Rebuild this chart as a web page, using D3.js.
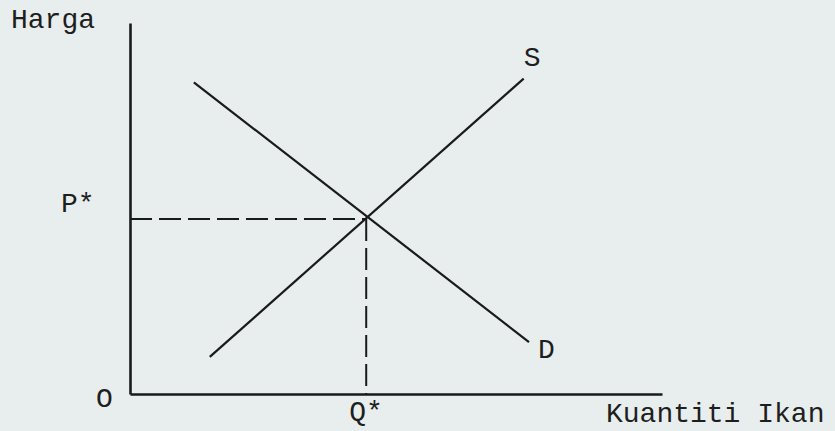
<!DOCTYPE html>
<html><head><meta charset="utf-8">
<script src="https://cdn.jsdelivr.net/npm/d3@7"></script>
<style>
html,body{margin:0;padding:0;background:#e8eeed;}
svg{display:block;}
text{font-family:"Liberation Mono","Courier New",monospace;font-size:28px;fill:#1e1e1e;}
</style></head><body>
<svg id="c" width="835" height="431"></svg>
<script>
// data (quantity 0-100, price 0-100)
const axisLabels = {y: "Harga", x: "Kuantiti Ikan", origin: "O"};
const supply = [[15, 10], [74, 85]];
const demand = [[12, 84], [75, 14]];
const equilibrium = {q: 44.4, p: 47.2};
const eqLabels = {p: "P*", q: "Q*"};
const curveLabels = ["S", "D"];

const svg = d3.select("#c");
const x = d3.scaleLinear().domain([0, 100]).range([130, 662]);
const y = d3.scaleLinear().domain([0, 100]).range([394, 23]);
const ink = "#1a1a1a";

// axes
svg.append("g").attr("transform", `translate(0,${y(0)})`)
  .call(d3.axisBottom(x).tickValues([]).tickSizeOuter(0))
  .select(".domain").attr("stroke", ink).attr("stroke-width", 2.6);
svg.append("g").attr("transform", `translate(${x(0)},0)`)
  .call(d3.axisLeft(y).tickValues([]).tickSizeOuter(0))
  .select(".domain").attr("stroke", ink).attr("stroke-width", 2.6);

const line = d3.line().x(d => x(d[0])).y(d => y(d[1]));
svg.append("path").attr("d", line(supply)).attr("fill", "none").attr("stroke", ink).attr("stroke-width", 2.2);
svg.append("path").attr("d", line(demand)).attr("fill", "none").attr("stroke", ink).attr("stroke-width", 2.2);

// dashed guides
svg.append("line").attr("x1", x(0)).attr("x2", x(equilibrium.q))
  .attr("y1", y(equilibrium.p)).attr("y2", y(equilibrium.p))
  .attr("stroke", ink).attr("stroke-width", 2).attr("stroke-dasharray", "22,7");
svg.append("line").attr("x1", x(equilibrium.q)).attr("x2", x(equilibrium.q))
  .attr("y1", y(equilibrium.p)).attr("y2", y(0))
  .attr("stroke", ink).attr("stroke-width", 2).attr("stroke-dasharray", "22,7");

// labels
svg.append("text").attr("x", 11).attr("y", 28).text(axisLabels.y);
svg.append("text").attr("x", 606).attr("y", 422).text(axisLabels.x);
svg.append("text").attr("x", 96).attr("y", 407).text(axisLabels.origin);
svg.append("text").attr("x", x(0) - 69).attr("y", y(equilibrium.p) - 7).text(eqLabels.p);
svg.append("text").attr("x", x(equilibrium.q) - 17).attr("y", 420).text(eqLabels.q);
const ends = [supply[1], demand[1]];
svg.append("text").attr("x", x(ends[0][0]) + 0).attr("y", y(ends[0][1]) - 13).text(curveLabels[0]);
svg.append("text").attr("x", x(ends[1][0]) + 9).attr("y", y(ends[1][1]) + 16).text(curveLabels[1]);
</script>
</body></html>
